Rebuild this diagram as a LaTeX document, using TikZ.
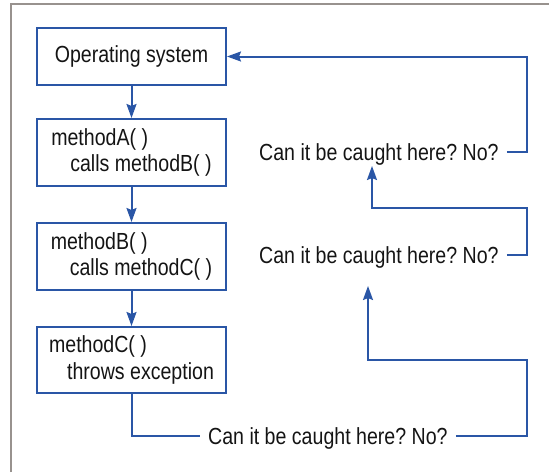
\documentclass[tikz,border=0pt]{standalone}
\usepackage{fontspec}
\setmainfont[FakeStretch=0.84]{Liberation Sans}
\usetikzlibrary{arrows.meta}
\frenchspacing
\definecolor{flowblue}{RGB}{42,86,166}
\definecolor{framegray}{RGB}{152,146,142}
\tikzset{box/.style={draw=flowblue,line width=2pt,minimum width=189pt,align=left,inner sep=0pt},
         link/.style={flowblue,line width=2pt},
         arr/.style={link,-{Stealth[length=14pt,width=10pt,inset=2pt]}},
         ask/.style={inner xsep=8pt,inner ysep=0pt,text height=16.5pt,text depth=0pt}}

\begin{document}
\begin{tikzpicture}[x=1pt,y=-1pt,font=\fontsize{23.3}{26.5}\selectfont,text=black!92]
  \useasboundingbox (0,0) rectangle (549,472);
  \draw[framegray,line width=2.2pt] (11,472) -- (11,4) -- (549,4);
  % call stack
  \node[box,minimum height=57pt] (os) at (131.5,56.5) {Operating system};
  \node[box,minimum height=67pt] (ma) at (131.5,152.5) {methodA( )\\\hspace*{19pt}calls methodB( )};
  \node[box,minimum height=67pt] (mb) at (131.5,256.5) {methodB( )\\\hspace*{19pt}calls methodC( )};
  \node[box,minimum height=66pt] (mc) at (131.5,360) {methodC( )\\\hspace*{18pt}throws exception};
  % questions on the way back
  \node[ask,anchor=west] (q1) at (251,152) {Can it be caught here? No?};
  \node[ask,anchor=west] (q2) at (251,255) {Can it be caught here? No?};
  \node[ask,anchor=west] (q3) at (200,436) {Can it be caught here? No?};
  \coordinate (tip1) at (372,166);
  \coordinate (tip2) at (368,286);
  \coordinate (b1) at (527,56.5);
  \coordinate (b2) at (527,208);
  \coordinate (b3) at (527,360);
  \draw[arr] (os) -- (ma);
  \draw[arr] (ma) -- (mb);
  \draw[arr] (mb) -- (mc);
  \draw[link] (mc) |- (q3);
  \draw[arr] (q3.east) -| (b3) -| (tip2);
  \draw[arr] (q2.east) -| (b2) -| (tip1);
  \draw[arr] (q1.east) -| (b1) -- (os.east);
\end{tikzpicture}
\end{document}
